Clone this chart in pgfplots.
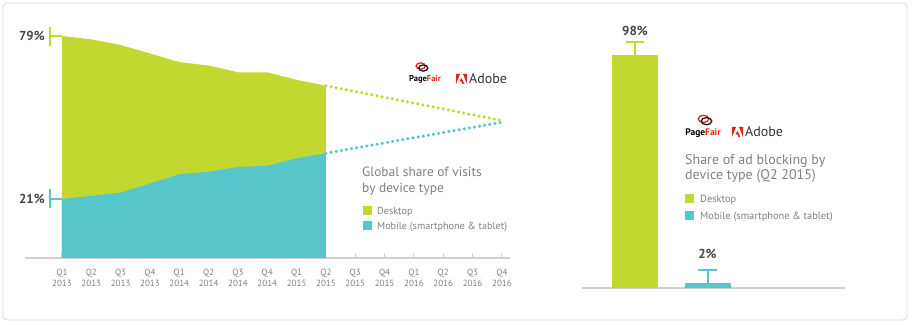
\documentclass[border=0pt]{standalone}
\usepackage{pgfplots}
\pgfplotsset{compat=1.18}
\usepackage{pgfplotstable}
\usepackage{fontspec}
\setmainfont{PT Sans}
\definecolor{lime}{HTML}{C2D831}
\definecolor{teal2}{HTML}{57C6CA}
\definecolor{txtgray}{HTML}{808080}
\definecolor{lblgray}{HTML}{454545}
\definecolor{axgray}{HTML}{D0D0D0}
\definecolor{adobered}{HTML}{E3231B}

\pgfplotstableread{
q desktop mobile
0 79 21
1 77.8 22.1
2 75.8 23.3
3 72.8 26.5
4 69.7 29.8
5 68.5 30.7
6 66.1 32.4
7 66.1 32.8
8 63.4 35.5
9 61.3 37.3
}\visits
\pgfplotstableread{
q desktop mobile
9 61.3 37.3
15 48.9 48.3
}\projection
\pgfplotstableread{
x share err
0 98 5.6
}\blockdesk
\pgfplotstableread{
x share err
1 2 5.6
}\blockmob

% PageFair icon centred at (#1,#2), size factor #3
\newcommand{\pfIcon}[3]{%
  \begin{scope}[shift={(#1,#2)}, scale=#3]
    \draw[adobered, line width=1.3pt] (-1.3,1.0) ellipse (4.6 and 3.1);
    \draw[black!90, line width=1.3pt] (1.3,-1.0) ellipse (4.6 and 3.1);
  \end{scope}}
% Adobe icon, lower-left (#1,#2), height #3
\newcommand{\adobeIcon}[3]{%
  \begin{scope}[shift={(#1,#2)}, scale=#3]
    \fill[adobered] (0,0) -- (0,1) -- (0.40,1) -- cycle;
    \fill[adobered] (1.1,0) -- (1.1,1) -- (0.70,1) -- cycle;
    \fill[adobered] (0.55,0.62) -- (0.84,0) -- (0.64,0) -- (0.53,0.26) -- (0.36,0.26) -- cycle;
  \end{scope}}

\begin{document}
\begin{tikzpicture}[x=1pt,y=1pt]
\useasboundingbox (0,0) rectangle (911,324);
\draw[black!14, line width=0.9pt, rounded corners=4pt] (3,4) rectangle (907,321);

% ---------------- left chart ----------------
\begin{axis}[
  at={(25pt,66pt)}, anchor=south west, scale only axis,
  x=29.33pt, y=2.81pt,
  xmin=-1.26, xmax=15.27, ymin=0, ymax=85,
  axis x line*=bottom, axis y line=none,
  x axis line style={draw=axgray, line width=1.2pt},
  xtick={0,...,15},
  xticklabels={{Q1\\2013},{Q2\\2013},{Q3\\2013},{Q4\\2013},{Q1\\2014},{Q2\\2014},{Q3\\2014},{Q4\\2014},{Q1\\2015},{Q2\\2015},{Q3\\2015},{Q4\\2015},{Q1\\2016},{Q2\\2016},{Q3\\2016},{Q4\\2016}},
  xticklabel style={align=center, font=\fontsize{9}{10.5}\selectfont, text=txtgray, yshift=-8pt},
  tick align=inside, major tick length=5pt,
  tick style={draw=axgray, line width=1pt},
  ytick=\empty, clip=false,
]
\addplot[fill=lime, draw=none] table[x=q,y=desktop]{\visits} \closedcycle;
\addplot[fill=teal2, draw=none] table[x=q,y=mobile]{\visits} \closedcycle;
\addplot[lime, line width=3.5pt, line cap=round, dash pattern=on 0pt off 5.2pt] table[x=q,y=desktop]{\projection};
\addplot[teal2, line width=3.5pt, line cap=round, dash pattern=on 0pt off 5.2pt] table[x=q,y=mobile]{\projection};
\coordinate (p79) at (axis cs:0,79);
\coordinate (p21) at (axis cs:0,21);
\end{axis}
\draw[lime, line width=1.6pt] (p79) -- ++(-12,0) ++(0,-9.5) -- ++(0,19);
\draw[teal2, line width=1.6pt] (p21) -- ++(-12,0) ++(0,-9.5) -- ++(0,19);
\node[anchor=east, inner sep=0pt, font=\bfseries\fontsize{13}{14}\selectfont, text=lblgray] at ([xshift=-17pt]p79) {79\%};
\node[anchor=east, inner sep=0pt, font=\bfseries\fontsize{13}{14}\selectfont, text=lblgray] at ([xshift=-17pt]p21) {21\%};

% ---------------- right chart ----------------
\begin{axis}[
  at={(582pt,36pt)}, anchor=south west, scale only axis,
  x=72.5pt, y=2.378pt,
  xmin=-0.731, xmax=2.897, ymin=0, ymax=110,
  axis x line*=bottom, axis y line=none,
  x axis line style={draw=axgray, line width=1.2pt},
  xtick=\empty, ytick=\empty,
  ybar, bar width=46pt, bar shift=0pt, clip=false,
  /pgf/number format/assume math mode=true,
]
\addplot[fill=lime, draw=none,
  nodes near coords={\pgfmathprintnumber{\pgfplotspointmeta}\%},
  every node near coord/.append style={font=\bfseries\fontsize{13}{14}\selectfont, text=lblgray, inner sep=0pt, yshift=19pt},
  error bars/.cd, y dir=plus, y explicit, error mark=|,
  error bar style={draw=lime, line width=2pt},
  error mark options={draw=lime, line width=2pt, mark size=9pt}]
  table[x=x, y=share, y error=err]{\blockdesk};
\addplot[fill=teal2, draw=none,
  nodes near coords={\pgfmathprintnumber{\pgfplotspointmeta}\%},
  every node near coord/.append style={font=\bfseries\fontsize{13}{14}\selectfont, text=lblgray, inner sep=0pt, yshift=24pt},
  error bars/.cd, y dir=plus, y explicit, error mark=|,
  error bar style={draw=teal2, line width=2pt},
  error mark options={draw=teal2, line width=2pt, mark size=9.5pt}]
  table[x=x, y=share, y error=err]{\blockmob};
\end{axis}

% ---------------- left texts ----------------
\pfIcon{422}{257}{1.0}
\node[anchor=center, inner sep=0pt, font=\bfseries\fontsize{8.5}{9}\selectfont] at (425,245) {Page\textcolor{adobered}{Fair}};
\adobeIcon{456}{240}{10}
\node[anchor=west, inner sep=0pt, font=\fontsize{14}{16}\selectfont, text=black!80] at (469,245) {Adobe};

\node[anchor=base west, inner sep=0pt, font=\fontsize{13.4}{15}\selectfont, text=txtgray] at (362,147.5) {Global share of visits};
\node[anchor=base west, inner sep=0pt, font=\fontsize{13.4}{15}\selectfont, text=txtgray] at (362,131.5) {by device type};
\fill[lime] (363,108.5) rectangle (372,117.5);
\fill[teal2] (363,93.5) rectangle (372,102.5);
\node[anchor=base west, inner sep=0pt, font=\fontsize{10.2}{11}\selectfont, text=txtgray] at (377,109.5) {Desktop};
\node[anchor=base west, inner sep=0pt, font=\fontsize{10.2}{11}\selectfont, text=txtgray] at (377,94.5) {Mobile (smartphone \& tablet)};

% ---------------- right texts ----------------
\pfIcon{705}{204}{1.15}
\node[anchor=center, inner sep=0pt, font=\bfseries\fontsize{9.5}{10}\selectfont] at (703,191) {Page\textcolor{adobered}{Fair}};
\adobeIcon{732}{187}{10}
\node[anchor=west, inner sep=0pt, font=\fontsize{14}{16}\selectfont, text=black!80] at (745,192) {Adobe};

\node[anchor=base west, inner sep=0pt, font=\fontsize{14}{16}\selectfont, text=txtgray] at (685,159.5) {Share of ad blocking by};
\node[anchor=base west, inner sep=0pt, font=\fontsize{14}{16}\selectfont, text=txtgray] at (685,144) {device type (Q2 2015)};
\fill[lime] (685,120.5) rectangle (694,129.5);
\fill[teal2] (685,103.5) rectangle (694,112.5);
\node[anchor=base west, inner sep=0pt, font=\fontsize{10.4}{11}\selectfont, text=txtgray] at (700,121.5) {Desktop};
\node[anchor=base west, inner sep=0pt, font=\fontsize{10.4}{11}\selectfont, text=txtgray] at (700,104.5) {Mobile (smartphone \& tablet)};
\end{tikzpicture}
\end{document}
